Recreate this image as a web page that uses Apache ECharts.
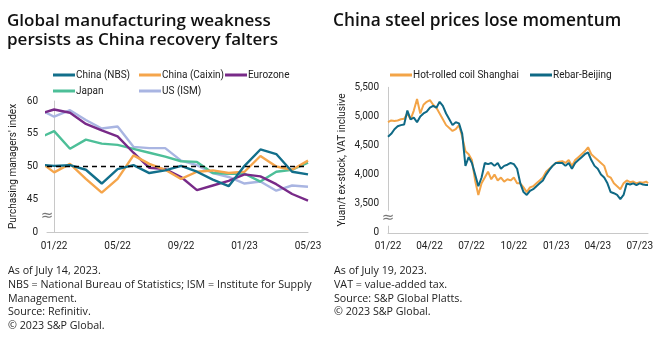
<!DOCTYPE html>
<html>
<head>
<meta charset="utf-8">
<script src="https://cdn.jsdelivr.net/npm/echarts@6/dist/echarts.min.js"></script>
<style>
html,body{margin:0;padding:0;background:#fff;}
#c{width:660px;height:342px;}
</style>
</head>
<body>
<div id="c"></div>
<script>
// ---------- Left chart: PMI (month index: 0 = 01/22, -1 = 12/21) ----------
const pmiMonths = [-1,0,1,2,3,4,5,6,7,8,9,10,11,12,13,14,15,16];
const chinaNBS    = [50.3,50.1,50.2,49.5,47.4,49.6,50.2,49.0,49.4,50.1,49.2,48.0,47.0,50.1,52.6,51.9,49.2,48.8];
const chinaCaixin = [50.9,49.1,50.4,48.1,46.0,48.1,51.7,50.4,49.5,48.1,49.2,49.4,49.0,49.2,51.6,50.0,49.5,50.9];
const eurozone    = [58.0,58.7,58.2,56.5,55.5,54.6,52.1,49.8,49.6,48.4,46.4,47.1,47.8,48.8,48.5,47.3,45.8,44.8];
const japan       = [54.3,55.4,52.7,54.1,53.5,53.3,52.7,52.1,51.5,50.8,50.7,49.0,48.9,48.9,47.7,49.2,49.5,50.6];
const usISM       = [58.8,57.6,58.6,57.1,55.8,56.1,53.0,52.8,52.8,50.9,50.2,49.0,48.4,47.4,47.7,46.3,47.1,46.9];
const pmiTickMonths = [0,4,8,12,16];
const pmiTickLabels = ['01/22','05/22','09/22','01/23','05/23'];

// ---------- Right chart: steel prices (day index: 0 = 2022-01-01) ----------
const steelDays = [0,7,14,21,28,35,42,49,56,63,70,77,84,91,98,105,112,119,126,133,140,147,154,161,168,175,182,189,196,203,210,217,224,231,238,245,252,259,266,273,280,287,294,301,308,315,322,329,336,343,350,357,364,371,378,385,392,399,406,413,420,427,434,441,448,455,462,469,476,483,490,497,504,511,518,525,532,539,546,553,560,564];
const hrcShanghai = [4900,4930,4920,4930,4950,4960,5050,4950,5100,5300,5050,5200,5250,5280,5200,5150,5050,4950,4850,4800,4750,4780,4850,4650,4400,4350,4250,3900,3650,3850,3950,4050,3920,4000,3900,3950,3880,3920,3900,3950,3850,3850,3780,3700,3780,3800,3850,3900,3950,4050,4100,4150,4200,4220,4230,4200,4250,4150,4250,4300,4350,4400,4470,4350,4300,4250,4200,4150,3980,3950,3850,3800,3750,3850,3900,3870,3880,3850,3870,3860,3880,3850];
const rebarBeijing = [4650,4700,4780,4830,4850,4860,5100,4950,4980,4900,5000,5050,5080,5150,5180,5150,5250,5180,5050,4950,4850,4900,4880,4700,4150,4300,4200,4000,3800,3950,4200,4180,4200,4150,4200,4100,4150,4170,4200,4180,4100,3850,3700,3650,3720,3750,3800,3850,3900,4000,4080,4150,4200,4200,4200,4150,4200,4100,4200,4250,4300,4350,4380,4250,4150,4100,4000,3950,3850,3700,3680,3650,3580,3650,3850,3830,3850,3820,3850,3830,3820,3820];
const steelTickDays = [0,90,181,273,365,455,546];
const steelTickLabels = ['01/22','04/22','07/22','10/22','01/23','04/23','07/23'];

const pair = (xs, ys) => xs.map((x, i) => [x, ys[i]]);
const FONT = 'Roboto, "Noto Sans", sans-serif';
const WIDE = '"Open Sans", Roboto, sans-serif';
const NOTE = '"Open Sans", Roboto, sans-serif';
const TXT = '#222';

const chart = echarts.init(document.getElementById('c'), null, {renderer: 'canvas'});

function lineSeries(name, data, color, xi, extra) {
  return Object.assign({
    name, type: 'line', data, xAxisIndex: xi, yAxisIndex: xi,
    showSymbol: false, symbol: 'none', clip: true,
    lineStyle: {color, width: 2.4}, itemStyle: {color},
    emphasis: {disabled: true}, animation: false
  }, extra || {});
}

const option = {
  animation: false,
  textStyle: {fontFamily: FONT},
  grid: [
    {left: 47, top: 101, width: 261, height: 131},
    {left: 388, top: 87.3, width: 260, height: 145.5}
  ],
  xAxis: [
    {
      type: 'value', gridIndex: 0, min: -0.45, max: 16,
      axisLine: {lineStyle: {color: '#c8c8c8', width: 1}},
      axisTick: {show: false},
      splitLine: {show: false},
      axisLabel: {
        customValues: pmiTickMonths, color: TXT, fontSize: 10, margin: 9, fontFamily: FONT,
        formatter: v => pmiTickLabels[pmiTickMonths.indexOf(v)] || ''
      }
    },
    {
      type: 'value', gridIndex: 1, min: 0, max: 564,
      axisLine: {lineStyle: {color: '#c8c8c8', width: 1}},
      axisTick: {show: false},
      splitLine: {show: false},
      axisLabel: {
        customValues: steelTickDays, color: TXT, fontSize: 10, margin: 9, fontFamily: FONT,
        formatter: v => steelTickLabels[steelTickDays.indexOf(v)] || ''
      }
    }
  ],
  yAxis: [
    {
      type: 'value', gridIndex: 0, min: 40, max: 60, interval: 5,
      name: "Purchasing managers' index", nameLocation: 'middle', nameGap: 29, nameRotate: 90,
      nameTextStyle: {color: TXT, fontSize: 10, fontFamily: FONT},
      axisLine: {show: true, lineStyle: {color: '#c8c8c8', width: 1}},
      axisTick: {show: false},
      splitLine: {show: false},
      axisLabel: {color: TXT, fontSize: 10, margin: 9, fontFamily: FONT,
        formatter: v => v === 40 ? '0' : String(v)}
    },
    {
      type: 'value', gridIndex: 1, min: 3000, max: 5500, interval: 500,
      name: 'Yuan/t ex-stock, VAT inclusive', nameLocation: 'middle', nameGap: 41, nameRotate: 90,
      nameTextStyle: {color: TXT, fontSize: 10, fontFamily: FONT},
      axisLine: {show: true, lineStyle: {color: '#c8c8c8', width: 1}},
      axisTick: {show: false},
      splitLine: {show: false},
      axisLabel: {color: TXT, fontSize: 10, margin: 9, fontFamily: FONT,
        formatter: v => v === 3000 ? '0' : v.toLocaleString('en-US')}
    }
  ],
  legend: [
    {
      data: ['China (NBS)', 'China (Caixin)', 'Eurozone', 'Japan', 'US (ISM)'],
      left: 48, top: 62, width: 275, orient: 'horizontal',
      icon: 'rect', itemWidth: 22, itemHeight: 3, itemGap: 0,
      selectedMode: false,
      textStyle: {color: TXT, fontSize: 10, width: 63, lineHeight: 16, fontFamily: FONT, padding: [0,0,0,-4]}
    },
    {
      data: ['Hot-rolled coil Shanghai', 'Rebar-Beijing'],
      left: 385, top: 62, width: 280, orient: 'horizontal',
      icon: 'rect', itemWidth: 22, itemHeight: 3, itemGap: 0,
      selectedMode: false,
      textStyle: {color: TXT, fontSize: 10, width: 117, lineHeight: 16, fontFamily: FONT, padding: [0,0,0,-4]}
    }
  ],
  series: [
    lineSeries('China (NBS)', pair(pmiMonths, chinaNBS), '#126f8b', 0, {z: 5}),
    lineSeries('China (Caixin)', pair(pmiMonths, chinaCaixin), '#f5a54b', 0, {z: 4}),
    lineSeries('Eurozone', pair(pmiMonths, eurozone), '#782a88', 0, {z: 3}),
    lineSeries('Japan', pair(pmiMonths, japan), '#4dbf98', 0, {z: 2}),
    lineSeries('US (ISM)', pair(pmiMonths, usISM), '#a9b5e2', 0, {z: 1,
      markLine: {
        silent: true, symbol: ['none', 'none'], label: {show: false},
        lineStyle: {color: '#000', type: [5, 4], width: 1.4},
        data: [{yAxis: 50}], z: 10
      }
    }),
    lineSeries('Hot-rolled coil Shanghai', pair(steelDays, hrcShanghai), '#f3a447', 1, {lineStyle: {color: '#f3a447', width: 2}}),
    lineSeries('Rebar-Beijing', pair(steelDays, rebarBeijing), '#0f6985', 1, {lineStyle: {color: '#0f6985', width: 2}})
  ],
  graphic: [
    {type: 'text', left: 7, top: 11, style: {text: 'Global manufacturing weakness\npersists as China recovery falters',
      fontSize: 17, fontWeight: 600, lineHeight: 19.5, fill: '#111', fontFamily: WIDE}},
    {type: 'text', left: 333, top: 11, style: {text: 'China steel prices lose momentum',
      fontSize: 17.3, fontWeight: 600, lineHeight: 19.5, fill: '#111', fontFamily: WIDE}},
    {type: 'text', left: 8, top: 264, style: {text: 'As of July 14, 2023.\nNBS = National Bureau of Statistics; ISM = Institute for Supply\nManagement.\nSource: Refinitiv.\n\u00a9 2023 S&P Global.',
      fontSize: 10.7, lineHeight: 13.8, fill: TXT, fontFamily: NOTE}},
    {type: 'text', left: 334, top: 264, style: {text: 'As of July 19, 2023.\nVAT = value-added tax.\nSource: S&P Global Platts.\n\u00a9 2023 S&P Global.',
      fontSize: 10.7, lineHeight: 13.8, fill: TXT, fontFamily: NOTE}}
  ]
};
chart.setOption(option);

// axis-break marks placed through the axes' own scales
const b1 = chart.convertToPixel({gridIndex: 0}, [-0.45, 42.5]);
const b2 = chart.convertToPixel({gridIndex: 1}, [0, 3250]);
chart.setOption({graphic: option.graphic.concat([
  {type: 'text', x: b1[0], y: b1[1], style: {text: '\u2248', fontSize: 15, fill: '#777', align: 'center', verticalAlign: 'middle', backgroundColor: '#fff', fontFamily: 'DejaVu Sans'}, z: 100},
  {type: 'text', x: b2[0], y: b2[1], style: {text: '\u2248', fontSize: 15, fill: '#777', align: 'center', verticalAlign: 'middle', backgroundColor: '#fff', fontFamily: 'DejaVu Sans'}, z: 100}
])});
</script>
</body>
</html>
